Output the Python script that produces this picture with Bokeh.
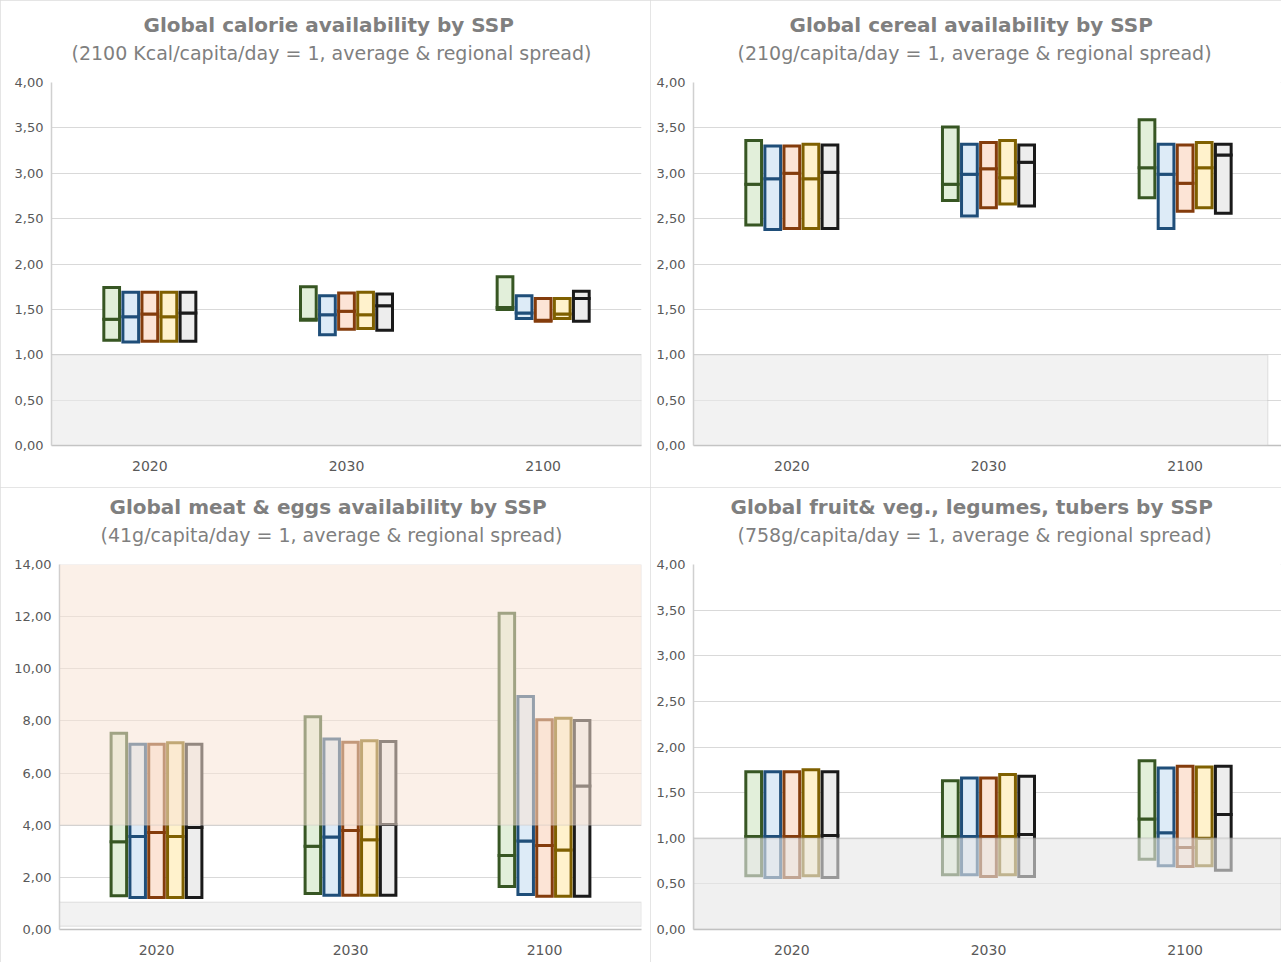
import pandas as pd
from bokeh.plotting import figure
from bokeh.layouts import row, column
from bokeh.models import (ColumnDataSource, Range1d, FixedTicker, CustomJSTickFormatter,
                          BoxAnnotation, Title)
from bokeh.embed import file_html
from bokeh.resources import INLINE

# ---------------- data ----------------
years = ["2020", "2030", "2100"]
ssps = ["SSP1", "SSP2", "SSP3", "SSP4", "SSP5"]
line_colors = ["#375623", "#1f4e79", "#843c0c", "#7f6000", "#1a1a1a"]
fill_colors = ["#e2efda", "#ddebf7", "#fce4d6", "#fff2cc", "#ededed"]

ticks_4 = [0, 0.5, 1, 1.5, 2, 2.5, 3, 3.5, 4]
ticks_14 = [0, 2, 4, 6, 8, 10, 12, 14]

# Calorie availability (2100 kcal/capita/day = 1) [year][ssp]
cal_min = [[1.16, 1.14, 1.15, 1.15, 1.15], [1.38, 1.22, 1.28, 1.29, 1.27], [1.50, 1.40, 1.37, 1.40, 1.37]]
cal_avg = [[1.39, 1.42, 1.45, 1.42, 1.46], [1.39, 1.44, 1.48, 1.44, 1.54], [1.52, 1.46, 1.38, 1.45, 1.62]]
cal_max = [[1.74, 1.69, 1.69, 1.69, 1.69], [1.75, 1.65, 1.68, 1.69, 1.67], [1.86, 1.65, 1.62, 1.62, 1.70]]

# Cereal availability (210 g/capita/day = 1)
cer_min = [[2.43, 2.38, 2.39, 2.39, 2.39], [2.70, 2.53, 2.62, 2.66, 2.64], [2.73, 2.39, 2.58, 2.62, 2.56]]
cer_avg = [[2.88, 2.94, 3.00, 2.94, 3.01], [2.88, 2.99, 3.05, 2.95, 3.12], [3.06, 2.99, 2.89, 3.06, 3.20]]
cer_max = [[3.36, 3.30, 3.30, 3.32, 3.31], [3.51, 3.32, 3.34, 3.36, 3.31], [3.59, 3.32, 3.31, 3.34, 3.32]]

# Meat & eggs availability (41 g/capita/day = 1)
meat_min = [[1.29, 1.23, 1.23, 1.23, 1.23], [1.38, 1.31, 1.31, 1.31, 1.31], [1.65, 1.34, 1.28, 1.28, 1.28]]
meat_avg = [[3.37, 3.57, 3.72, 3.57, 3.91], [3.19, 3.55, 3.80, 3.44, 4.03], [2.84, 3.39, 3.22, 3.05, 5.50]]
meat_max = [[7.53, 7.11, 7.11, 7.16, 7.11], [8.16, 7.31, 7.18, 7.24, 7.21], [12.13, 8.94, 8.05, 8.10, 8.02]]

# Fruit & veg., legumes, tubers (758 g/capita/day = 1)
fv_min = [[0.59, 0.57, 0.57, 0.59, 0.57], [0.60, 0.60, 0.58, 0.60, 0.58], [0.77, 0.70, 0.69, 0.70, 0.65]]
fv_avg = [[1.02, 1.02, 1.02, 1.02, 1.03], [1.02, 1.02, 1.02, 1.02, 1.04], [1.21, 1.06, 0.90, 1.00, 1.26]]
fv_max = [[1.73, 1.73, 1.73, 1.75, 1.73], [1.63, 1.66, 1.66, 1.70, 1.68], [1.85, 1.77, 1.79, 1.78, 1.79]]

# reference bands (value ranges)
ref_band = [0, 1]
meat_ref_band = [0.12, 1.05]
meat_high_band = [4, 14]

# ---------------- styling ----------------
SPACING = 0.097
BAR_W = 0.08
FONT = "DejaVu Sans"
TXT = "#7f7f7f"
LBL = "#595959"


def make_source(vmin, vavg, vmax):
    rows = []
    for yi, yr in enumerate(years):
        for si, s in enumerate(ssps):
            rows.append(dict(year=yr, ssp=s, x=yi + (si - 2) * SPACING,
                             lo=vmin[yi][si], mid=vavg[yi][si], hi=vmax[yi][si],
                             line=line_colors[si], fill=fill_colors[si]))
    return ColumnDataSource(pd.DataFrame(rows))


def make_panel(title, subtitle, vmin, vavg, vmax, ticks, width, height,
               borders, x_end, title_off, sub_off):
    left, right, top, bottom = borders
    p = figure(width=width, height=height,
               x_range=Range1d(-0.5, x_end), y_range=Range1d(ticks[0], ticks[-1]),
               output_backend="svg", toolbar_location=None,
               min_border_left=left, min_border_right=right,
               min_border_top=top, min_border_bottom=bottom)
    p.outline_line_color = None
    p.background_fill_color = "white"
    p.border_fill_color = "white"
    p.styles = {"outline": "1px solid #dcdcdc", "outline-offset": "-1px"}

    # spacer between frame and subtitle, then subtitle, then main title
    p.add_layout(Title(text=" ", text_font_size="1px", standoff=16), "above")
    p.add_layout(Title(text=subtitle, text_font=FONT, text_font_size="19px",
                       text_font_style="normal", text_color=TXT, align="left",
                       offset=sub_off, standoff=0), "above")
    p.add_layout(Title(text=title, text_font=FONT, text_font_size="20px",
                       text_font_style="bold", text_color=TXT, align="left",
                       offset=title_off, standoff=6), "above")

    src = make_source(vmin, vavg, vmax)
    p.vbar(x="x", width=BAR_W, bottom="lo", top="mid", source=src,
           fill_color="fill", line_color="line", line_width=3, line_join="miter")
    p.vbar(x="x", width=BAR_W, bottom="mid", top="hi", source=src,
           fill_color="fill", line_color="line", line_width=3, line_join="miter")

    p.yaxis.ticker = FixedTicker(ticks=ticks)
    p.yaxis.formatter = CustomJSTickFormatter(code="return tick.toFixed(2).replace('.', ',')")
    p.yaxis.axis_line_color = "#d0d0d0"
    p.yaxis.axis_line_width = 1.5
    p.yaxis.major_tick_line_color = None
    p.yaxis.minor_tick_line_color = None
    p.yaxis.major_tick_out = 0
    p.yaxis.major_tick_in = 0
    p.yaxis.major_label_standoff = 8
    p.yaxis.major_label_text_font = FONT
    p.yaxis.major_label_text_font_size = "13px"
    p.yaxis.major_label_text_color = LBL

    p.xaxis.ticker = FixedTicker(ticks=list(range(len(years))))
    p.xaxis.formatter = CustomJSTickFormatter(args=dict(labels=years),
                                              code="return labels[Math.round(tick)] || ''")
    p.xaxis.axis_line_color = "#c0c0c0"
    p.xaxis.axis_line_width = 1.5
    p.xaxis.major_tick_line_color = None
    p.xaxis.minor_tick_line_color = None
    p.xaxis.major_tick_out = 0
    p.xaxis.major_tick_in = 0
    p.xaxis.major_label_standoff = 15
    p.xaxis.major_label_text_font = FONT
    p.xaxis.major_label_text_font_size = "14px"
    p.xaxis.major_label_text_color = LBL

    p.xgrid.visible = False
    p.ygrid.grid_line_color = "#d9d9d9"
    p.ygrid.grid_line_width = 1.2
    return p


p1 = make_panel("Global calorie availability by SSP",
                "(2100 Kcal/capita/day = 1, average & regional spread)",
                cal_min, cal_avg, cal_max, ticks_4, 650, 487, (51, 9, 80, 42), 2.5, 92, 20)
p1.add_layout(BoxAnnotation(bottom=ref_band[0], top=ref_band[1], fill_color="#e9e9e9",
                            fill_alpha=0.6, line_color="#b8b8b8", line_width=1.5))

p2 = make_panel("Global cereal availability by SSP",
                "(210g/capita/day = 1, average & regional spread)",
                cer_min, cer_avg, cer_max, ticks_4, 631, 487, (43, 0, 82, 40), 2.49, 96, 44)
p2.add_layout(BoxAnnotation(bottom=ref_band[0], top=ref_band[1], right=2.42,
                            fill_color="#e9e9e9", fill_alpha=0.6,
                            line_color="#b8b8b8", line_width=1.5))

p3 = make_panel("Global meat & eggs availability by SSP",
                "(41g/capita/day = 1, average & regional spread)",
                meat_min, meat_avg, meat_max, ticks_14, 650, 475, (59, 9, 77, 33), 2.5, 50, 41)
p3.add_layout(BoxAnnotation(bottom=meat_high_band[0], top=meat_high_band[1],
                            fill_color="#f8e4d5", fill_alpha=0.55,
                            line_color="#bdbdbd", line_width=1.2))
p3.add_layout(BoxAnnotation(bottom=meat_ref_band[0], top=meat_ref_band[1],
                            fill_color="#e9e9e9", fill_alpha=0.6,
                            line_color="#b8b8b8", line_width=1.5))

p4 = make_panel("Global fruit& veg., legumes, tubers by SSP",
                "(758g/capita/day = 1, average & regional spread)",
                fv_min, fv_avg, fv_max, ticks_4, 631, 475, (43, 0, 77, 33), 2.49, 37, 44)
p4.add_layout(BoxAnnotation(bottom=ref_band[0], top=ref_band[1], fill_color="#e6e6e6",
                            fill_alpha=0.62, line_color="#a8a8a8", line_width=2))

layout = column(row(p1, p2), row(p3, p4))

open("out.html", "w").write(file_html(layout, INLINE))
